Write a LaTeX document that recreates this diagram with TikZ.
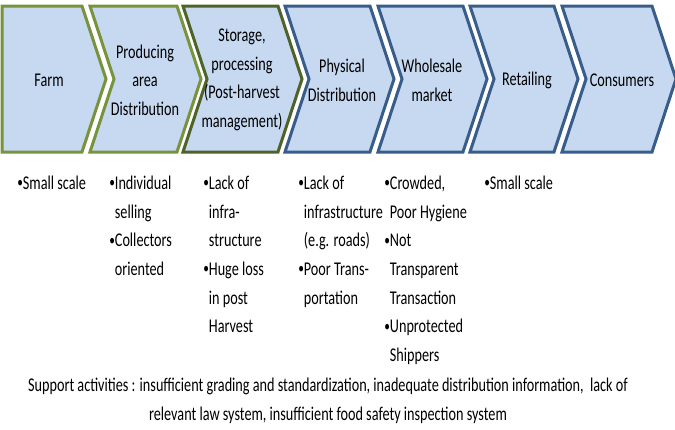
\documentclass[tikz,border=0pt]{standalone}
\usepackage{fontspec}
\setmainfont{Carlito}[FakeStretch=0.73]
\usepackage{xcolor}
\usepackage{graphicx}
\usepackage{tikz}

\definecolor{chevFill}{RGB}{198,217,241}
\definecolor{chevGreen}{RGB}{119,147,60}
\definecolor{chevDkGreen}{RGB}{79,98,40}
\definecolor{chevBlue}{RGB}{56,93,138}
\newcommand{\bul}{\raisebox{0.15ex}{\scalebox{0.8}{•}}}
\newcommand{\ind}{\hphantom{\bul}}
\tikzset{
  chev/.style={fill=chevFill,line width=2.25pt,line join=miter},
  stage/.style={align=center,inner sep=0pt,font=\fontsize{14.6}{21.5}\selectfont},
  note/.style={anchor=north west,align=left,inner sep=0pt,font=\fontsize{14.6}{21.5}\selectfont},
}

\begin{document}
\begin{tikzpicture}[x=0.75pt,y=0.75pt,yscale=-1,xscale=1]
\useasboundingbox (0,0) rectangle (675,429);
\draw [chev,draw=chevGreen]   (2,6) -- (82,6) -- (106,79) -- (82,152) -- (2,152) -- cycle ;
\draw [chev,draw=chevGreen]   (90,6) -- (177,6) -- (201,79) -- (177,152) -- (90,152) -- (114,79) -- cycle ;
\draw [chev,draw=chevDkGreen] (183,6) -- (278,6) -- (302,79) -- (278,152) -- (183,152) -- (207,79) -- cycle ;
\draw [chev,draw=chevBlue]    (285,6) -- (370,6) -- (394,79) -- (370,152) -- (285,152) -- (309,79) -- cycle ;
\draw [chev,draw=chevBlue]    (378,6) -- (463,6) -- (487,79) -- (463,152) -- (378,152) -- (402,79) -- cycle ;
\draw [chev,draw=chevBlue]    (470,6) -- (554,6) -- (578,79) -- (554,152) -- (470,152) -- (494,79) -- cycle ;
\draw [chev,draw=chevBlue]    (562,6) -- (652,6) -- (676,79) -- (652,152) -- (562,152) -- (586,79) -- cycle ;
\draw (49,80) node [stage] (farm) {Farm};
\draw (145,80) node [stage] (producing) {Producing\\area\\Distribution};
\draw (242,80) node [stage] (storage) {Storage,\\processing\\(Post-harvest\\management)};
\draw (342,80) node [stage] (physical) {Physical\\Distribution};
\draw (432,80) node [stage] (wholesale) {Wholesale\\market};
\draw (527,80) node [stage] (retailing) {Retailing};
\draw (622,80) node [stage] (consumers) {Consumers};
\draw (17,169) node [note] (farmnote) {\strut\bul Small scale};
\draw (109,169) node [note] (producingnote) {\strut\bul Individual\\\ind selling\\\bul Collectors\\\ind oriented};
\draw (203,169) node [note] (storagenote) {\strut\bul Lack of\\\ind infra-\\\ind structure\\\bul Huge loss\\\ind in post\\\ind Harvest};
\draw (298,169) node [note] (physicalnote) {\strut\bul Lack of\\\ind infrastructure\\\ind (e.g. roads)\\\bul Poor Trans-\\\ind portation};
\draw (384,169) node [note] (wholesalenote) {\strut\bul Crowded,\\\ind Poor Hygiene\\\bul Not\\\ind Transparent\\\ind Transaction\\\bul Unprotected\\\ind Shippers};
\draw (484,169) node [note] (retailingnote) {\strut\bul Small scale};
\draw (328,401) node [stage] (support) {Support activities : insufficient grading and standardization, inadequate distribution information,~ lack of\\relevant law system, insufficient food safety inspection system};
\end{tikzpicture}
\end{document}
